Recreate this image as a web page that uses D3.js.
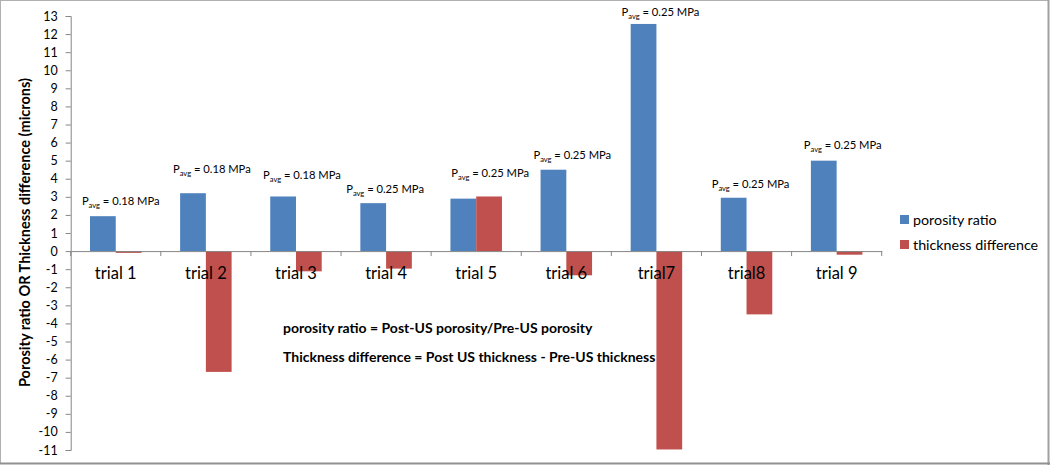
<!DOCTYPE html>
<html>
<head>
<meta charset="utf-8">
<script src="https://cdn.jsdelivr.net/npm/d3@7"></script>
<style>
  html, body { margin: 0; padding: 0; background: #fff; }
  svg { display: block; font-family: Lato, "Open Sans", sans-serif; }
</style>
</head>
<body>
<svg id="chart" width="1050" height="465"></svg>
<script>
// ---- data ----
const categories = ["trial 1", "trial 2", "trial 3", "trial 4", "trial 5", "trial 6", "trial7", "trial8", "trial 9"];
const porosityRatio = [1.93, 3.2, 3.02, 2.65, 2.9, 4.5, 12.56, 2.95, 5.0];
const thicknessDiff = [-0.1, -6.68, -1.12, -0.97, 3.02, -1.34, -10.97, -3.5, -0.2];
const pressureLabels = ["0.18", "0.18", "0.18", "0.25", "0.25", "0.25", "0.25", "0.25", "0.25"];
const seriesNames = ["porosity ratio", "thickness difference"];
const yTicks = d3.range(-11, 14);
const notes = ["porosity ratio = Post-US porosity/Pre-US porosity",
               "Thickness difference = Post US thickness - Pre-US thickness"];

// ---- layout / style ----
const colors = ["#4F81BD", "#C0504D"];
const labelNudge = [[5, 11], [6, 20], [6, 17], [-1, 10], [14, 19], [6, 11], [4, 8], [4, 10], [6, 12]];

(function () {
const svg = d3.select("#chart");
const W = 1050, H = 465;

// outer frame
svg.append("rect").attr("x", 0.5).attr("y", 0.5).attr("width", W - 2).attr("height", H - 2)
  .attr("fill", "#fff").attr("stroke", "#b0b0b0").attr("stroke-width", 1);
svg.append("line").attr("x1", W - 1.5).attr("x2", W - 1.5).attr("y1", 0).attr("y2", H)
  .attr("stroke", "#a0a0a0").attr("stroke-width", 2);
svg.append("line").attr("x1", 0).attr("x2", W).attr("y1", H - 1.5).attr("y2", H - 1.5)
  .attr("stroke", "#909090").attr("stroke-width", 2);

const mLeft = 70.7, mRight = 881.7, mTop = 16, mBottom = 450;
const y = d3.scaleLinear().domain([-11, 13]).range([mBottom, mTop]);
const x0 = d3.scaleBand().domain(categories).range([mLeft, mRight]).padding(0);
const bw = x0.bandwidth() / 3.5;
const x1 = d3.scaleBand().domain([0, 1]).range([0.75 * bw, 2.75 * bw]).padding(0);

// bars
const g = svg.append("g");
categories.forEach((c, i) => {
  [porosityRatio[i], thicknessDiff[i]].forEach((v, s) => {
    g.append("rect")
      .attr("x", x0(c) + x1(s))
      .attr("width", x1.bandwidth())
      .attr("y", y(Math.max(0, v)))
      .attr("height", Math.abs(y(v) - y(0)))
      .attr("fill", colors[s]);
  });
});

// y axis
const yAxis = svg.append("g").attr("transform", `translate(${mLeft},0)`)
  .call(d3.axisLeft(y).tickValues(yTicks).tickSize(5).tickPadding(8).tickFormat(d3.format("d")));
yAxis.select(".domain").attr("stroke", "#868686");
yAxis.selectAll(".tick line").attr("stroke", "#868686");
yAxis.selectAll(".tick text").attr("font-size", 12.5).attr("fill", "#000")
  .attr("font-family", "Lato, sans-serif").text(d => d < 0 ? "-" + Math.abs(d) : d);

// x axis at zero
const xAxis = svg.append("g").attr("transform", `translate(0,${y(0)})`)
  .call(d3.axisBottom(x0).tickSize(0).tickFormat(""));
xAxis.select(".domain").attr("stroke", "#868686");
xAxis.selectAll(".tick").remove();
const bounds = categories.map(c => x0(c)).concat([mRight]);
xAxis.selectAll("line.sep").data(bounds).enter().append("line")
  .attr("x1", d => d).attr("x2", d => d).attr("y1", 0).attr("y2", 5)
  .attr("stroke", "#868686");
svg.append("g").selectAll("text").data(categories).enter().append("text")
  .attr("x", d => x0(d) + x0.bandwidth() / 2)
  .attr("y", y(0) + 28)
  .attr("text-anchor", "middle")
  .attr("font-size", 16.5)
  .attr("fill", "#000")
  .text(d => d);

// Pavg labels
const lab = svg.append("g");
categories.forEach((c, i) => {
  const yTop = y(Math.max(porosityRatio[i], thicknessDiff[i], 0));
  const t = lab.append("text")
    .attr("x", x0(c) + x0.bandwidth() / 2 + labelNudge[i][0])
    .attr("y", yTop - labelNudge[i][1])
    .attr("text-anchor", "middle")
    .attr("font-size", 11.2)
    .attr("fill", "#000");
  t.append("tspan").text("P");
  t.append("tspan").attr("font-size", 7.5).attr("dy", 3).text("avg");
  t.append("tspan").attr("dy", -3).text(" = " + pressureLabels[i] + " MPa");
});

// y title
svg.append("text")
  .attr("transform", `translate(30,${(70 + 395) / 2}) rotate(-90)`)
  .attr("text-anchor", "middle")
  .attr("font-size", 14.5)
  .attr("font-weight", "bold")
  .attr("fill", "#000")
  .text("Porosity ratio OR Thickness difference (microns)");

// notes
svg.append("g").selectAll("text").data(notes).enter().append("text")
  .attr("x", 283)
  .attr("y", (d, i) => 333 + i * 29)
  .attr("font-size", 14)
  .attr("font-weight", "bold")
  .attr("fill", "#000")
  .text(d => d);

// legend
const leg = svg.append("g");
seriesNames.forEach((n, i) => {
  const ly = 220 + i * 25;
  leg.append("rect").attr("x", 900).attr("y", ly - 5).attr("width", 9).attr("height", 9).attr("fill", colors[i]);
  leg.append("text").attr("x", 913).attr("y", ly + 5).attr("font-size", 14.3).attr("fill", "#000").text(n);
});
})();
</script>
</body>
</html>
